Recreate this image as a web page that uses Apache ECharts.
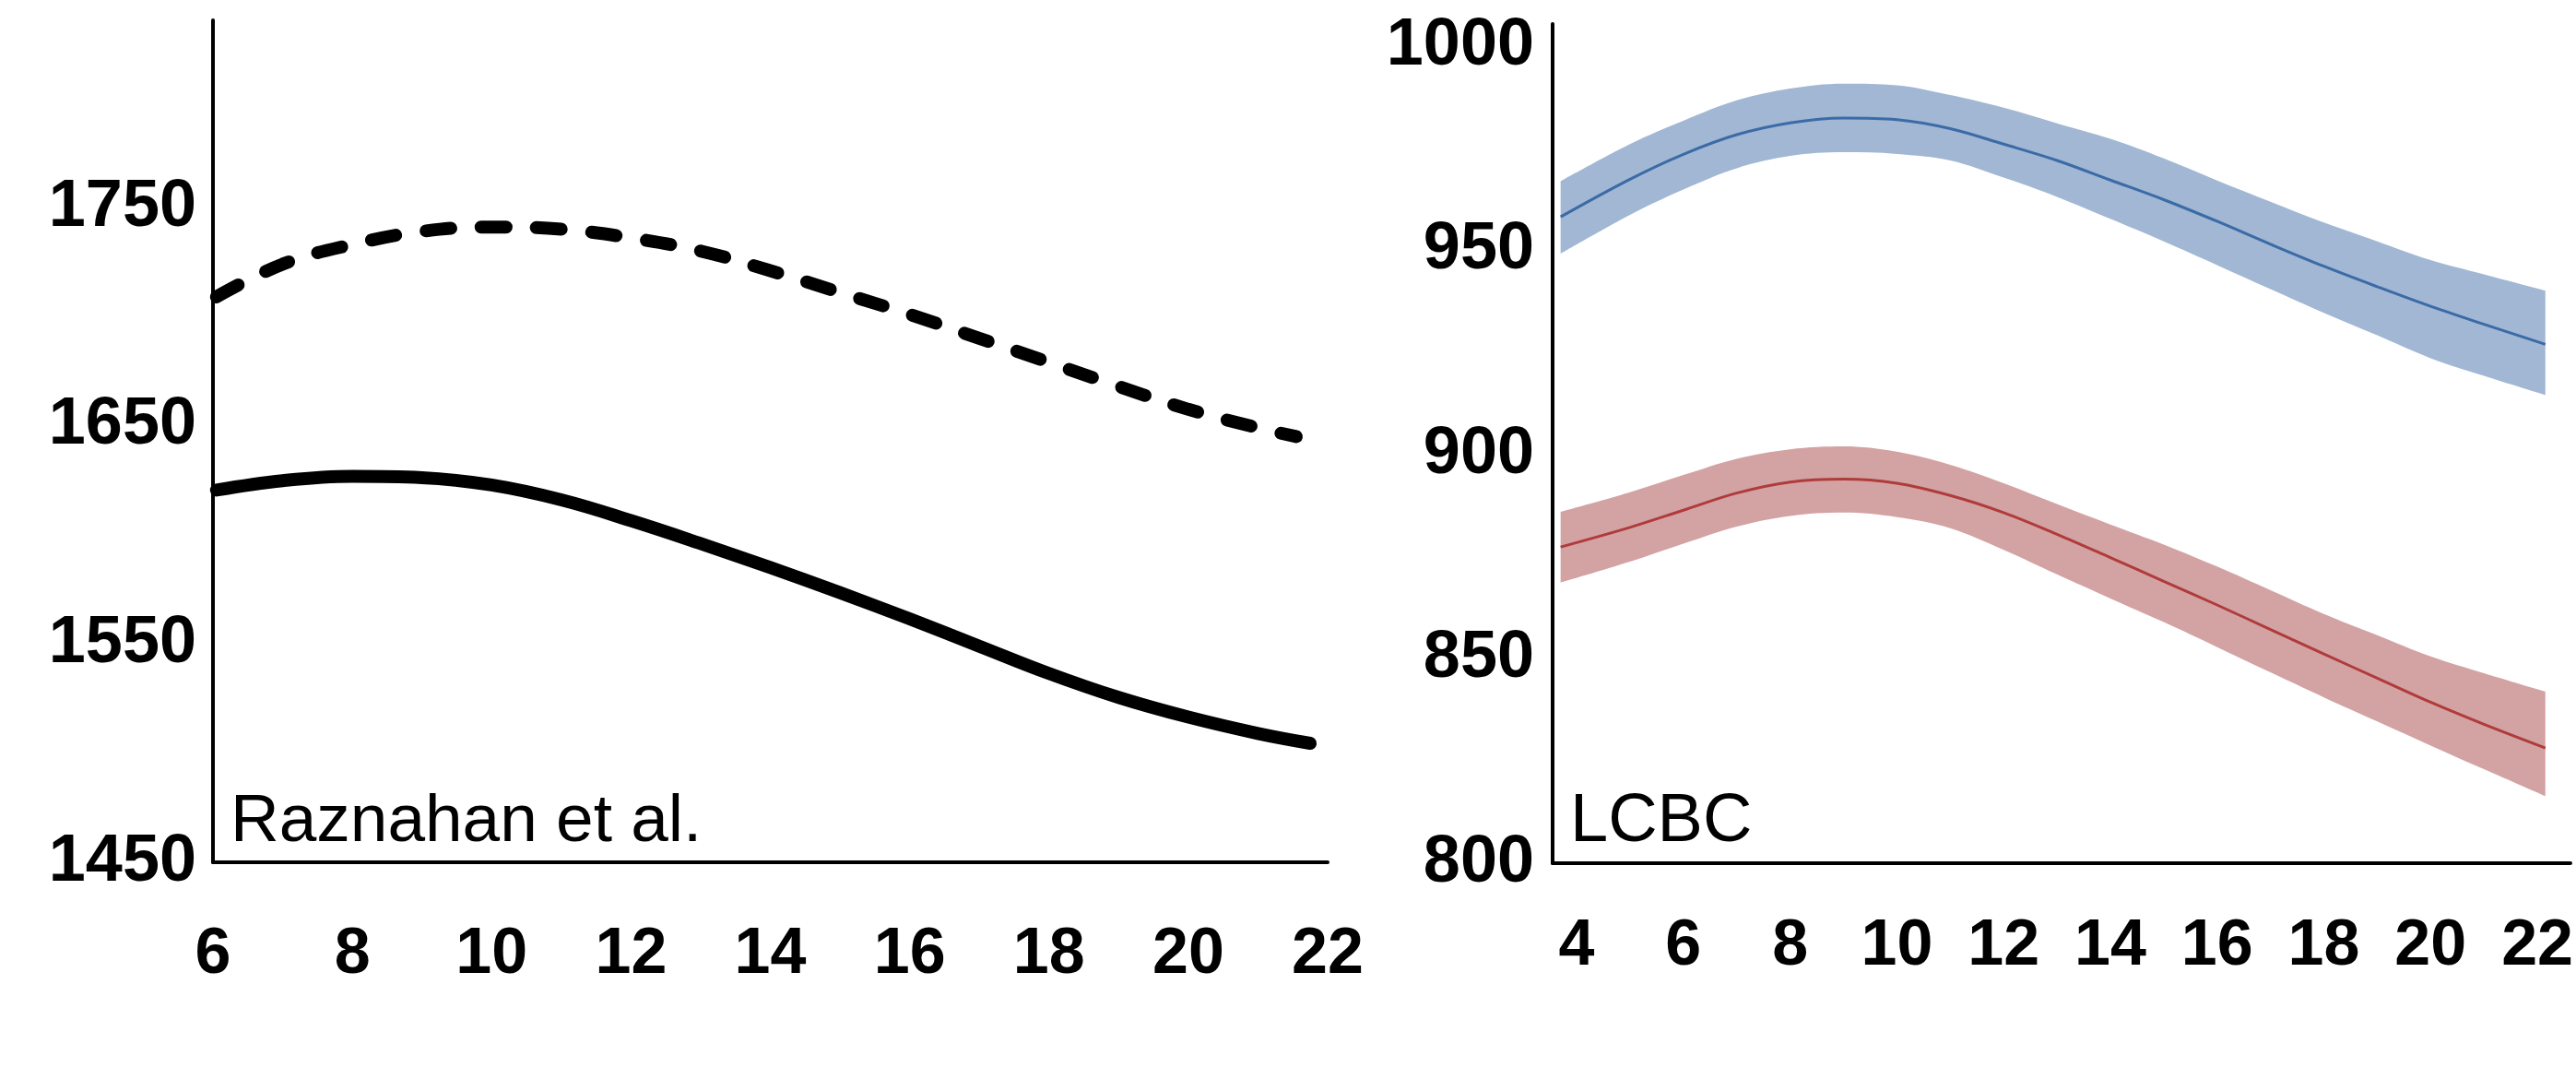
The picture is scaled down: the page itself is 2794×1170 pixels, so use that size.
<!DOCTYPE html>
<html><head><meta charset="utf-8">
<script src="https://cdn.jsdelivr.net/npm/echarts@6/dist/echarts.min.js"></script>
<style>html,body{margin:0;padding:0;background:#fff}#c{width:2794px;height:1170px}</style>
</head><body><div id="c"></div>
<script>
// ---- tick labels ----
const leftXTicks = [6, 8, 10, 12, 14, 16, 18, 20, 22];
const leftYTicks = [1450, 1550, 1650, 1750];
const rightXTicks = [4, 6, 8, 10, 12, 14, 16, 18, 20, 22];
const rightYTicks = [800, 850, 900, 950, 1000];

// ---- left panel: Raznahan et al. ----
const raznahanDashedAge = [6.05, 7, 8, 9, 10, 11, 12, 13, 14, 15, 16, 17, 18, 19, 20, 21, 21.55];
const raznahanDashed    = [1709, 1724, 1733, 1739, 1741, 1740, 1736, 1730, 1721, 1711, 1701, 1690, 1679, 1668, 1657.5, 1649, 1645];
const raznahanSolidAge  = [6.05, 7, 8, 9, 10, 11, 12, 13, 14, 15, 16, 17, 18, 19, 20, 21, 21.75];
const raznahanSolid     = [1620.5, 1624.8, 1626.8, 1626.2, 1622.8, 1616, 1606.5, 1596, 1585, 1573.5, 1561.5, 1549, 1536.5, 1525.5, 1516.5, 1509, 1504.5];

// ---- right panel: LCBC ----
const lcbcAge       = [3.7, 5, 6, 7, 8, 9, 10, 11, 12, 13, 14, 15, 16, 17, 18, 19, 20, 21, 22.15];
const lcbcBlue      = [958.2, 967.4, 973.5, 978.3, 981.2, 982.4, 982.0, 979.8, 976.0, 972.0, 967.2, 962.4, 957.1, 951.5, 946.1, 941.1, 936.3, 931.9, 927.0];
const lcbcBlueUpper = [966.9, 976.0, 981.7, 986.7, 989.6, 990.8, 990.4, 988.0, 984.9, 981.1, 977.3, 972.5, 967.1, 961.9, 956.8, 952.2, 947.6, 944.1, 940.1];
const lcbcBlueLower = [949.2, 958.7, 964.9, 970.1, 973.1, 974.0, 973.6, 972.0, 967.8, 963.1, 957.7, 952.2, 946.4, 940.5, 934.7, 929.2, 923.6, 919.3, 914.6];
const lcbcRed       = [877.4, 882.2, 886.4, 890.6, 893.3, 894.0, 893.0, 890.0, 885.8, 880.5, 874.8, 869.0, 863.2, 857.2, 851.2, 845.3, 839.4, 834.0, 828.2];
const lcbcRedUpper  = [886.0, 890.8, 895.0, 899.0, 901.3, 902.0, 900.7, 897.5, 893.0, 887.9, 882.9, 878.0, 872.6, 866.8, 861.0, 855.8, 850.6, 846.5, 842.0];
const lcbcRedLower  = [868.7, 873.8, 878.2, 882.4, 885.0, 885.8, 884.7, 882.0, 876.7, 870.7, 864.8, 859.0, 852.9, 846.7, 840.6, 834.7, 828.8, 823.0, 816.4];

const leftLabel = 'Raznahan et al.';
const rightLabel = 'LCBC';

// ---- build ----
const pairs = (xs, ys) => xs.map((x, i) => [x, ys[i]]);
// value-first rows so the stack runs on the y dimension (x is a value axis too)
const rowsVX = (xs, vs) => xs.map((x, i) => [vs[i], x]);
const diffVX = (xs, a, b) => xs.map((x, i) => [+(a[i] - b[i]).toFixed(2), x]);
const FONT = '"Liberation Sans", Arial, sans-serif';
const axisLineStyle = { show: true, onZero: false, lineStyle: { color: '#000', width: 4 } };
const plain = v => String(v);
const SM = 0.35;

function band(name, lower, upper, color) {
  return [
    { type: 'line', xAxisIndex: 1, yAxisIndex: 1, stack: name, data: rowsVX(lcbcAge, lower),
      encode: { x: 1, y: 0 }, smooth: SM, symbol: 'none', lineStyle: { opacity: 0 }, silent: true },
    { type: 'line', xAxisIndex: 1, yAxisIndex: 1, stack: name, data: diffVX(lcbcAge, upper, lower),
      encode: { x: 1, y: 0 }, smooth: SM, symbol: 'none', lineStyle: { opacity: 0 }, silent: true,
      areaStyle: { color: color, opacity: 1 } }
  ];
}

const option = {
  animation: false,
  backgroundColor: '#fff',
  grid: [
    { left: 231, top: 22, width: 1209, height: 913 },
    { left: 1684, top: 26, width: 1104, height: 910 }
  ],
  xAxis: [
    { type: 'value', gridIndex: 0, min: 6, max: 22, z: 10,
      axisLine: axisLineStyle, axisTick: { show: false }, splitLine: { show: false },
      axisLabel: { customValues: leftXTicks, formatter: plain, fontSize: 70, fontWeight: 'bold', color: '#000', fontFamily: FONT, margin: 66 } },
    { type: 'value', gridIndex: 1, min: 3.55, max: 22.62, z: 10,
      axisLine: axisLineStyle, axisTick: { show: false }, splitLine: { show: false },
      axisLabel: { customValues: rightXTicks, formatter: plain, fontSize: 70, fontWeight: 'bold', color: '#000', fontFamily: FONT, margin: 56 } }
  ],
  yAxis: [
    { type: 'value', gridIndex: 0, min: 1450, max: 1835.7, z: 10,
      axisLine: axisLineStyle, axisTick: { show: false }, splitLine: { show: false },
      axisLabel: { customValues: leftYTicks, formatter: plain, fontSize: 72, fontWeight: 'bold', color: '#000', fontFamily: FONT, margin: 18 } },
    { type: 'value', gridIndex: 1, min: 800, max: 1005.4, z: 10,
      axisLine: axisLineStyle, axisTick: { show: false }, splitLine: { show: false },
      axisLabel: { customValues: rightYTicks, formatter: plain, fontSize: 72, fontWeight: 'bold', color: '#000', fontFamily: FONT, margin: 20 } }
  ],
  series: [
    { type: 'line', xAxisIndex: 0, yAxisIndex: 0, data: pairs(raznahanDashedAge, raznahanDashed),
      smooth: 0.4, symbol: 'none',
      lineStyle: { color: '#000', width: 14, type: [27, 33], cap: 'round' } },
    { type: 'line', xAxisIndex: 0, yAxisIndex: 0, data: pairs(raznahanSolidAge, raznahanSolid),
      smooth: 0.4, symbol: 'none',
      lineStyle: { color: '#000', width: 14, cap: 'round' } },

    ...band('blue', lcbcBlueLower, lcbcBlueUpper, '#a1b7d3'),
    ...band('red', lcbcRedLower, lcbcRedUpper, '#d3a3a4'),

    { type: 'line', xAxisIndex: 1, yAxisIndex: 1, data: pairs(lcbcAge, lcbcBlue),
      smooth: SM, symbol: 'none', lineStyle: { color: '#3b6ba6', width: 3 } },
    { type: 'line', xAxisIndex: 1, yAxisIndex: 1, data: pairs(lcbcAge, lcbcRed),
      smooth: SM, symbol: 'none', lineStyle: { color: '#b03b3b', width: 3 } }
  ],
  graphic: [
    { type: 'text', x: 250, y: 892, z: 100, style: { text: leftLabel, fontSize: 73, fontFamily: FONT, fill: '#000', verticalAlign: 'middle' } },
    { type: 'text', x: 1703, y: 892, z: 100, style: { text: rightLabel, fontSize: 74, fontFamily: FONT, fill: '#000', verticalAlign: 'middle' } }
  ]
};
const chart = echarts.init(document.getElementById('c'), null, { renderer: 'canvas' });
chart.setOption(option);
</script></body></html>
